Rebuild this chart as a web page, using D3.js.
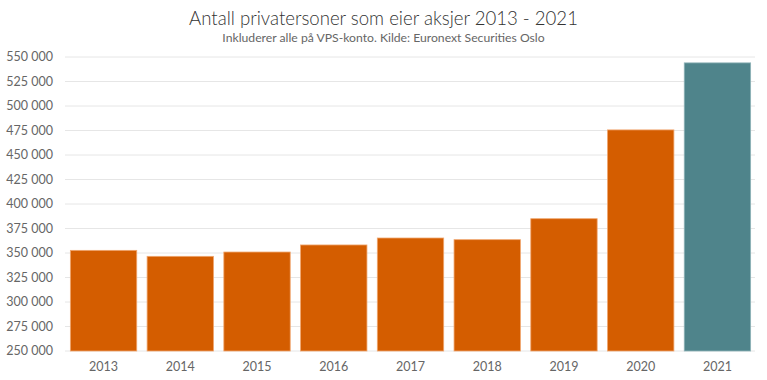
<!DOCTYPE html>
<html>
<head>
<meta charset="utf-8">
<script src="https://cdn.jsdelivr.net/npm/d3@7"></script>
<style>
  html, body { margin: 0; padding: 0; background: #fff; }
  svg { display: block; font-family: Lato, "Open Sans", sans-serif; }
</style>
</head>
<body>
<svg id="chart" width="767" height="380"></svg>
<script>
const years = ["2013", "2014", "2015", "2016", "2017", "2018", "2019", "2020", "2021"];
const owners = [352700, 346600, 351000, 358200, 365300, 363600, 385000, 475600, 544000];
const yTicks = [250000, 275000, 300000, 325000, 350000, 375000, 400000, 425000, 450000, 475000, 500000, 525000, 550000];
const titleText = "Antall privatersoner som eier aksjer 2013 - 2021";
const subtitleText = "Inkluderer alle på VPS-konto. Kilde: Euronext Securities Oslo";

const svg = d3.select("#chart");

const x = d3.scaleBand().domain(years).range([65, 756]).paddingInner(0.135).paddingOuter(0.07);
const y = d3.scaleLinear().domain([250000, 550000]).range([351, 57]);

const fmt = v => d3.format(",")(v).replace(/,/g, " ");

svg.append("g")
  .selectAll("line")
  .data(yTicks)
  .join("line")
  .attr("x1", 65).attr("x2", 755)
  .attr("y1", d => y(d)).attr("y2", d => y(d))
  .attr("stroke", "#e6e6e6").attr("stroke-width", 1);

svg.append("g")
  .selectAll("text")
  .data(yTicks)
  .join("text")
  .attr("x", 53).attr("y", d => y(d))
  .attr("dy", "0.35em")
  .attr("text-anchor", "end")
  .attr("font-size", 12.5)
  .attr("fill", "#666")
  .text(fmt);

svg.append("g")
  .selectAll("rect")
  .data(years)
  .join("rect")
  .attr("x", d => x(d))
  .attr("width", x.bandwidth())
  .attr("y", (d, i) => y(owners[i]))
  .attr("height", (d, i) => y(250000) - y(owners[i]))
  .attr("fill", (d, i) => i === years.length - 1 ? "#4f848b" : "#d45d00")
  .attr("stroke", (d, i) => i === years.length - 1 ? "#8fb3b8" : "#f0a66e")
  .attr("stroke-width", 0.8);

svg.append("g")
  .selectAll("text")
  .data(years)
  .join("text")
  .attr("x", d => x(d) + x.bandwidth() / 2)
  .attr("y", 371)
  .attr("text-anchor", "middle")
  .attr("font-size", 12.5)
  .attr("fill", "#666")
  .text(d => d);

svg.append("text")
  .attr("x", 383.5).attr("y", 25)
  .attr("text-anchor", "middle")
  .attr("font-size", 18.6)
  .attr("font-weight", 300)
  .attr("fill", "#333")
  .text(titleText);

svg.append("text")
  .attr("x", 383.5).attr("y", 42)
  .attr("text-anchor", "middle")
  .attr("font-size", 12.2)
  .attr("fill", "#666")
  .text(subtitleText);
</script>
</body>
</html>
